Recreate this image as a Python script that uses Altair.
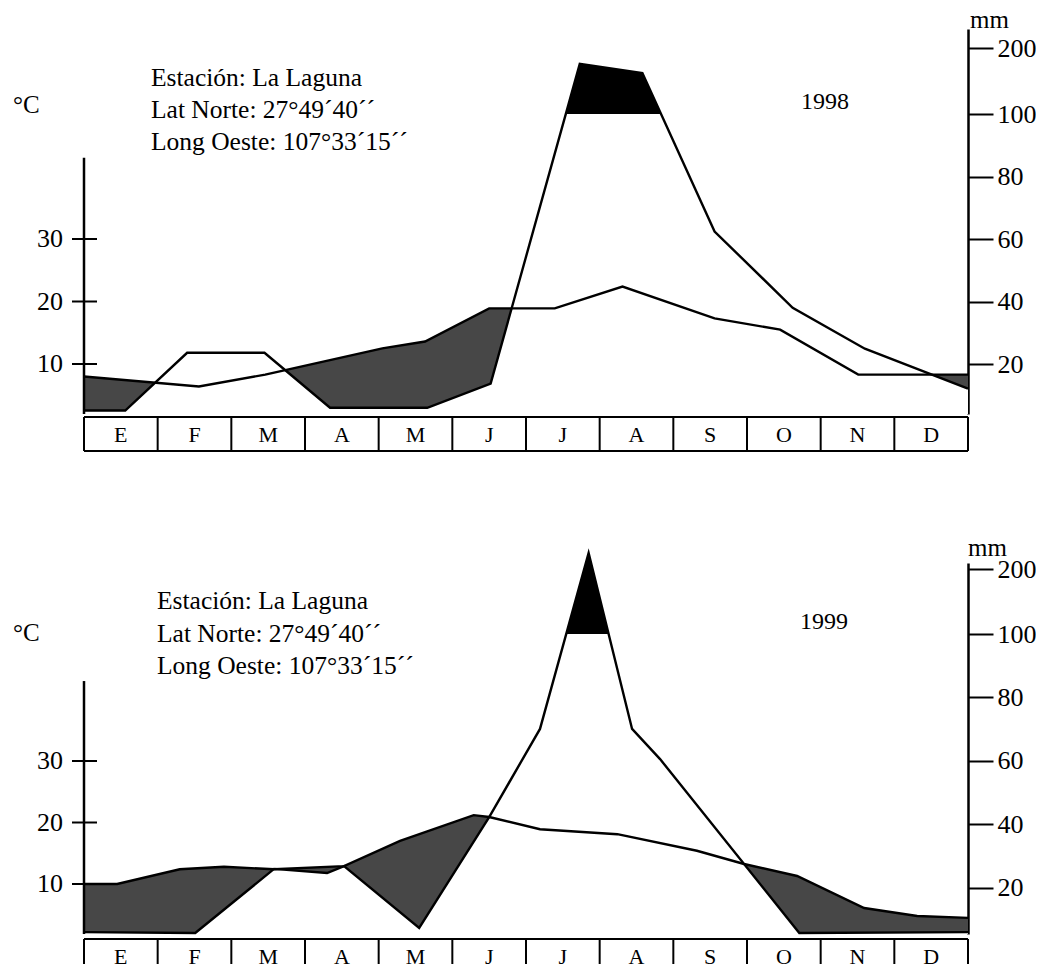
import altair as alt
import pandas as pd

FONT = "Liberation Serif"

months = ["E", "F", "M", "A", "M", "J", "J", "A", "S", "O", "N", "D"]

# ---- 1998 (vertex positions in month units)
t98_x = [0.0, 1.56, 2.46, 4.05, 4.63, 5.50, 6.39, 7.31, 8.56, 9.45, 10.51, 12.0]
t98_c = [8.0, 6.4, 8.3, 12.5, 13.6, 18.9, 18.9, 22.4, 17.3, 15.5, 8.3, 8.3]
p98_x = [0.0, 0.56, 1.40, 2.45, 3.34, 4.66, 5.52, 6.73, 7.58, 8.56, 9.62, 10.60, 12.0]
p98_mm = [5.1, 5.1, 23.6, 23.6, 6.0, 6.0, 13.7, 176.0, 162.0, 62.4, 38.0, 24.9, 12.1]

# ---- 1999
t99_x = [0.0, 0.45, 1.30, 1.90, 2.58, 3.53, 4.29, 5.29, 5.50, 6.19, 7.24, 8.32, 8.96, 9.68, 10.59, 11.31, 12.0]
t99_c = [10.0, 10.0, 12.4, 12.8, 12.4, 12.9, 17.0, 21.2, 20.9, 18.9, 18.1, 15.4, 13.25, 11.3, 6.1, 4.8, 4.5]
p99_x = [0.0, 1.51, 2.58, 3.30, 3.53, 4.55, 5.50, 6.19, 6.85, 7.44, 7.82, 9.71, 12.0]
p99_mm = [6.1, 5.8, 26.0, 24.7, 26.9, 7.4, 42.3, 70.1, 224.6, 70.1, 60.6, 5.8, 6.1]

left_ticks = [10, 20, 30]
right_ticks = [20, 40, 60, 80, 100, 200]
station = "Estación: La Laguna\nLat Norte: 27°49´40´´\nLong Oeste: 107°33´15´´"

W = 884
LEFT_AXIS_TOP = 43.0

panels = [
    dict(year="1998", tx=t98_x, tc=t98_c, px=p98_x, pm=p98_mm, H=385,
         ppc=6.25, t_min=2.0, p_min=4.0, y100=85, y200=19,
         band_h=34, band_bottom=True,
         degC=(-71, 84), stat=(67, 57, 32), yr=(741, 80), mm=(886, -1)),
    dict(year="1999", tx=t99_x, tc=t99_c, px=p99_x, pm=p99_mm, H=371,
         ppc=6.15, t_min=1.87, p_min=5.5, y100=71, y200=6,
         band_h=25, band_bottom=False,
         degC=(-71, 78), stat=(73, 46, 32.5), yr=(740, 66), mm=(884, -7)),
]


def p_to_px(mm, p):
    H, y100, y200 = p["H"], p["y100"], p["y200"]
    if mm <= 100:
        return H + (mm - p["p_min"]) * (y100 - H) / (100 - p["p_min"])
    return y100 + (mm - 100) * (y200 - y100) / 100.0


def make_panel(p):
    H = p["H"]
    xs = alt.Scale(domain=[0, 12], nice=False, zero=False)
    tscale = alt.Scale(domain=[p["t_min"], p["t_min"] + H / p["ppc"]], nice=False, zero=False)
    p_top = 200 + p["y200"] / ((p["y100"] - p["y200"]) / 100.0)
    pscale = alt.Scale(domain=[p["p_min"], 100, p_top], range=[H, p["y100"], 0],
                       nice=False, zero=False)

    tdf = pd.DataFrame({"x": p["tx"], "c": p["tc"]})
    pdf = pd.DataFrame({"x": p["px"], "mm": p["pm"]})

    X = alt.X("x:Q", scale=xs, axis=None)

    # dry period: temperature area (grey stipple)
    dry = alt.Chart(tdf).mark_area(color="#474747", opacity=1, fillOpacity=1).encode(
        x=X,
        y=alt.Y("c:Q", scale=tscale, axis=None),
        y2=alt.Y2Datum(p["t_min"]),
    )

    # precipitation area: white below 100 mm, black above
    top_px = min(p_to_px(m, p) for m in p["pm"])
    off = (p["y100"] - top_px) / (H - top_px)
    grad = {
        "gradient": "linear", "x1": 0, "y1": 0, "x2": 0, "y2": 1,
        "stops": [
            {"offset": 0, "color": "black"},
            {"offset": off, "color": "black"},
            {"offset": off, "color": "white"},
            {"offset": 1, "color": "white"},
        ],
    }
    wet = alt.Chart(pdf).mark_area(fill=grad, opacity=1, fillOpacity=1).encode(
        x=X,
        y=alt.Y("mm:Q", scale=pscale, axis=None),
        y2=alt.Y2Datum(p["p_min"]),
    )

    tline = alt.Chart(tdf).mark_line(color="black", strokeWidth=2.4).encode(
        x=X, y=alt.Y("c:Q", scale=tscale, axis=None)
    )
    pline = alt.Chart(pdf).mark_line(color="black", strokeWidth=2.4).encode(
        x=X,
        y=alt.Y(
            "mm:Q", scale=pscale,
            axis=alt.Axis(
                orient="right", values=right_ticks, format="d", title=None, grid=False,
                domainColor="black", domainWidth=2.5, tickColor="black", tickWidth=2,
                tickSize=25, labelPadding=4, labelFont=FONT, labelFontSize=26,
                labelColor="black", labelBaseline="middle", labelFlush=False,
                labelOverlap=False,
            ),
        ),
    )

    # left (°C) axis drawn by hand: short line and ticks crossing it
    ax_df = pd.DataFrame({"a": [p["t_min"]], "b": [LEFT_AXIS_TOP]})
    laxis = alt.Chart(ax_df).mark_rule(color="black", strokeWidth=2.5).encode(
        x=alt.value(0),
        y=alt.Y("a:Q", scale=tscale, axis=None),
        y2="b:Q",
    )
    tk_df = pd.DataFrame({"v": left_ticks})
    lticks = alt.Chart(tk_df).mark_rule(color="black", strokeWidth=2).encode(
        x=alt.value(-12), x2=alt.value(13), y=alt.Y("v:Q", scale=tscale, axis=None)
    )
    llabels = alt.Chart(tk_df).mark_text(
        font=FONT, fontSize=26, align="right", baseline="middle", color="black"
    ).encode(x=alt.value(-21), y=alt.Y("v:Q", scale=tscale, axis=None), text="v:Q")

    def txt(s, pos, **kw):
        return alt.Chart(pd.DataFrame({"s": [s]})).mark_text(
            font=FONT, color="black", baseline="alphabetic", **kw
        ).encode(x=alt.value(pos[0]), y=alt.value(pos[1]), text="s:N")

    degc = txt("°C", p["degC"], fontSize=25, align="left")
    stat = txt(station, p["stat"][:2], fontSize=25.5, align="left", lineBreak="\n",
               lineHeight=p["stat"][2])
    year = txt(p["year"], p["yr"], fontSize=24, align="center")
    mm = txt("mm", p["mm"], fontSize=25, align="left")

    main = alt.layer(
        dry, wet, tline, pline, laxis, lticks, llabels, degc, stat, year, mm
    ).resolve_scale(y="independent").properties(width=W, height=H)

    # month band
    bh = p["band_h"]
    edges = pd.DataFrame({"e": list(range(13))})
    mdf = pd.DataFrame({"m": [i + 0.5 for i in range(12)], "lab": months})
    bx = alt.Scale(domain=[0, 12], nice=False, zero=False)
    divs = alt.Chart(edges).mark_rule(color="black", strokeWidth=2).encode(
        x=alt.X("e:Q", scale=bx, axis=None)
    )
    btop = alt.Chart(edges.head(1)).mark_rule(color="black", strokeWidth=2).encode(
        x=alt.value(0), x2=alt.value(W), y=alt.value(0)
    )
    blayers = [divs, btop]
    if p["band_bottom"]:
        blayers.append(
            alt.Chart(edges.head(1)).mark_rule(color="black", strokeWidth=2).encode(
                x=alt.value(0), x2=alt.value(W), y=alt.value(bh)
            )
        )
    blabels = alt.Chart(mdf).mark_text(
        font=FONT, fontSize=22, baseline="alphabetic", align="center", color="black"
    ).encode(x=alt.X("m:Q", scale=bx, axis=None), y=alt.value(25), text="lab:N")
    blayers.append(blabels)
    band = alt.layer(*blayers).properties(width=W, height=bh)

    return alt.vconcat(main, band, spacing=0)


chart = alt.vconcat(make_panel(panels[0]), make_panel(panels[1]), spacing=84).properties(
    padding={"left": 5, "right": 0, "top": 0, "bottom": 0},
    background="white",
).configure_view(stroke=None)

chart.save("out.html", embed_options={"renderer": "svg", "actions": False})
